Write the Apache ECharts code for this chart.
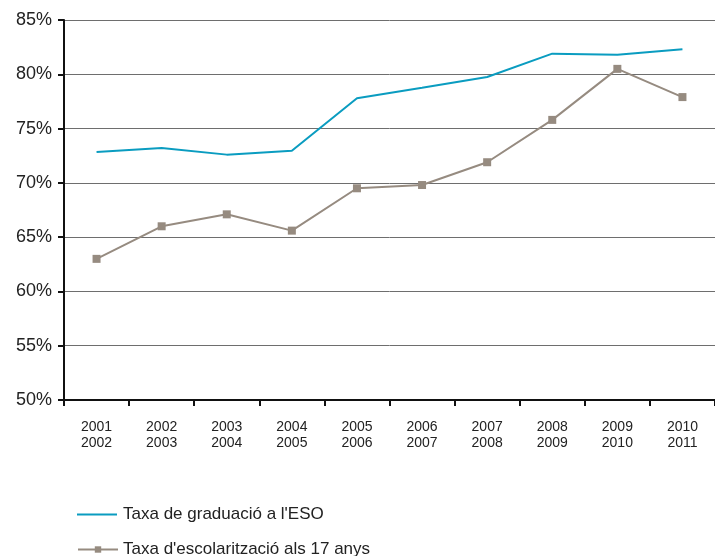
<!DOCTYPE html>
<html>
<head>
<meta charset="utf-8">
<script src="https://cdn.jsdelivr.net/npm/echarts@6/dist/echarts.min.js"></script>
<style>
  html, body { margin: 0; padding: 0; background: #fff; }
  #chart { width: 715px; height: 556px; }
</style>
</head>
<body>
<div id="chart"></div>
<script>
// cursos escolars
const cursos = ['2001\n2002', '2002\n2003', '2003\n2004', '2004\n2005', '2005\n2006',
                '2006\n2007', '2007\n2008', '2008\n2009', '2009\n2010', '2010\n2011'];
// Taxa de graduació a l'ESO (%)
const graduacio = [72.85, 73.2, 72.6, 72.95, 77.8, 78.75, 79.75, 81.9, 81.8, 82.3];
// Taxa d'escolarització als 17 anys (%)
const escolaritzacio = [63.0, 66.0, 67.1, 65.6, 69.5, 69.8, 71.9, 75.8, 80.5, 77.9];

const nomGrad = "Taxa de graduació a l'ESO";
const nomEsc = "Taxa d'escolarització als 17 anys";
const font = 'Liberation Sans, Arial, Helvetica, sans-serif';

let myChart = echarts.init(document.getElementById('chart'));
myChart.setOption({
    animation: false,
    grid: {
        left: 64,
        top: 20,
        width: 656,
        height: 380
    },
    legend: [{
        left: 72,
        top: 501,
        itemWidth: 40,
        itemHeight: 2,
        icon: 'rect',
        textStyle: { fontFamily: font, fontSize: 17, color: '#222', padding: [0, 0, 0, 1] },
        data: [nomGrad]
    }, {
        left: 72,
        top: 536,
        itemWidth: 40,
        itemHeight: 8,
        textStyle: { fontFamily: font, fontSize: 17, color: '#222', padding: [0, 0, 0, 0] },
        data: [nomEsc]
    }],
    xAxis: {
        type: 'category',
        data: cursos,
        boundaryGap: true,
        axisLine: { lineStyle: { color: '#111', width: 2 } },
        axisTick: { show: true, inside: false, length: 6, lineStyle: { color: '#111', width: 2 } },
        axisLabel: {
            margin: 19,
            fontFamily: font,
            fontSize: 14,
            lineHeight: 16,
            color: '#222'
        }
    },
    yAxis: {
        type: 'value',
        min: 50,
        max: 85,
        interval: 5,
        axisLine: { show: true, lineStyle: { color: '#111', width: 2 } },
        axisTick: { show: true, length: 6, lineStyle: { color: '#111', width: 2 } },
        axisLabel: {
            formatter: '{value}%',
            margin: 12,
            fontFamily: font,
            fontSize: 18,
            color: '#222'
        },
        splitLine: { show: true, lineStyle: { color: '#6e6e6e', width: 1 } }
    },
    series: [
        {
            name: nomGrad,
            type: 'line',
            data: graduacio,
            symbol: 'none',
            lineStyle: { color: '#0a9cc0', width: 2 },
            itemStyle: { color: '#0a9cc0' }
        },
        {
            name: nomEsc,
            type: 'line',
            data: escolaritzacio,
            symbol: 'rect',
            symbolSize: 8,
            showSymbol: true,
            lineStyle: { color: '#968b80', width: 2 },
            itemStyle: { color: '#968b80' }
        }
    ]
});
</script>
</body>
</html>
